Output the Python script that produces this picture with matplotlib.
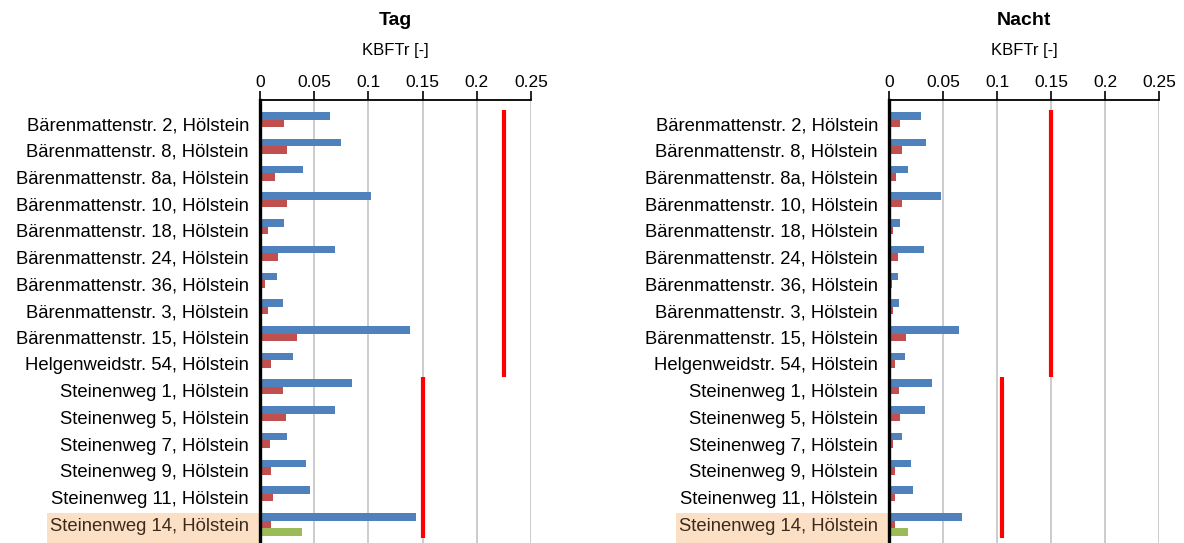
import matplotlib
matplotlib.use("Agg")
import matplotlib.pyplot as plt
from matplotlib.patches import Rectangle

plt.rcParams['font.family'] = ['Liberation Sans', 'DejaVu Sans']

locations = [
    "Bärenmattenstr. 2, Hölstein", "Bärenmattenstr. 8, Hölstein",
    "Bärenmattenstr. 8a, Hölstein", "Bärenmattenstr. 10, Hölstein",
    "Bärenmattenstr. 18, Hölstein", "Bärenmattenstr. 24, Hölstein",
    "Bärenmattenstr. 36, Hölstein", "Bärenmattenstr. 3, Hölstein",
    "Bärenmattenstr. 15, Hölstein", "Helgenweidstr. 54, Hölstein",
    "Steinenweg 1, Hölstein", "Steinenweg 5, Hölstein",
    "Steinenweg 7, Hölstein", "Steinenweg 9, Hölstein",
    "Steinenweg 11, Hölstein", "Steinenweg 14, Hölstein",
]

tag_blue = [0.065, 0.075, 0.040, 0.102, 0.022, 0.069, 0.016, 0.021,
            0.138, 0.030, 0.085, 0.069, 0.025, 0.042, 0.046, 0.144]
tag_red = [0.022, 0.025, 0.014, 0.025, 0.0074, 0.017, 0.0046, 0.0074,
           0.034, 0.010, 0.021, 0.024, 0.0092, 0.010, 0.012, 0.010]
tag_green = [0, 0, 0, 0, 0, 0, 0, 0, 0, 0, 0, 0, 0, 0, 0, 0.039]
tag_limit = [0.225] * 10 + [0.15] * 6

nacht_blue = [0.030, 0.034, 0.018, 0.048, 0.0099, 0.032, 0.008, 0.009,
              0.065, 0.0145, 0.0395, 0.033, 0.0117, 0.020, 0.022, 0.068]
nacht_red = [0.0099, 0.0117, 0.0062, 0.0117, 0.0034, 0.008, 0.0025, 0.0034,
             0.0154, 0.0053, 0.009, 0.0099, 0.0034, 0.0053, 0.0053, 0.0053]
nacht_green = [0, 0, 0, 0, 0, 0, 0, 0, 0, 0, 0, 0, 0, 0, 0, 0.018]
nacht_limit = [0.15] * 10 + [0.105] * 6

xticks = [0, 0.05, 0.1, 0.15, 0.2, 0.25]
xticklabels = ["0", "0.05", "0.1", "0.15", "0.2", "0.25"]
highlight = 15


def draw_panel(ax, title, blue, red, green, limit):
    n = len(locations)
    pos = list(range(n))
    h = 0.28
    ax.barh([p - h for p in pos], blue, height=h, color='#4f81bd', zorder=3)
    ax.barh(pos, red, height=h, color='#c0504d', zorder=3)
    ax.barh([p + h for p in pos], green, height=h, color='#9bbb59', zorder=3)
    for i, lim in enumerate(limit):
        ax.vlines(lim, i - 0.5, i + 0.5, color='#ff0000', lw=3.0, zorder=4)
    ax.set_xlim(0, 0.25)
    ax.set_ylim(n - 0.5 + 0.2, -0.5 - 0.38)
    ax.set_yticks(pos)
    ax.set_yticklabels(locations, fontsize=13.3)
    ax.tick_params(axis='y', length=0, pad=8)
    ax.xaxis.tick_top()
    ax.xaxis.set_label_position('top')
    ax.set_xticks(xticks)
    ax.set_xticklabels(xticklabels, fontsize=12.5)
    ax.tick_params(axis='x', direction='out', length=6.5, width=1.2, pad=0.5)
    ax.set_xlabel("KBFTr [-]", fontsize=12, labelpad=14.5)
    ax.set_title(title, fontsize=14, fontweight='bold', pad=13)
    for x in xticks[1:]:
        ax.axvline(x, color='#c8c8c8', lw=1.3, zorder=1)
    for s in ['right', 'bottom']:
        ax.spines[s].set_visible(False)
    ax.spines['top'].set_linewidth(1.3)
    ax.spines['left'].set_linewidth(2.4)
    ax.spines['left'].set_zorder(5)


def add_highlight(fig, ax):
    fig.canvas.draw()
    lab = ax.get_yticklabels()[highlight]
    lab.set_color('#3b2a1a')
    bb = lab.get_window_extent()
    x0 = bb.x0 - 3
    x1 = ax.transData.transform((0, 0))[0]
    y_top = ax.transData.transform((0, highlight - 0.42))[1]
    inv = fig.transFigure.inverted()
    (fx0, _), (fx1, fy1) = inv.transform([(x0, 0), (x1, y_top)])
    fig.patches.append(Rectangle((fx0, 0), fx1 - fx0, fy1,
                                 transform=fig.transFigure,
                                 facecolor='#fbe0c6', edgecolor='none',
                                 zorder=-1))


def main():
    fig = plt.figure(figsize=(11.84, 5.43), dpi=100)
    ax1 = fig.add_axes([260 / 1184, 0, 271 / 1184, 443 / 543])
    ax2 = fig.add_axes([889 / 1184, 0, 270 / 1184, 443 / 543])
    ax1.patch.set_alpha(0)
    ax2.patch.set_alpha(0)
    draw_panel(ax1, "Tag", tag_blue, tag_red, tag_green, tag_limit)
    draw_panel(ax2, "Nacht", nacht_blue, nacht_red, nacht_green, nacht_limit)
    add_highlight(fig, ax1)
    add_highlight(fig, ax2)
    fig.savefig("out.png", dpi=100)


if __name__ == "__main__":
    main()
